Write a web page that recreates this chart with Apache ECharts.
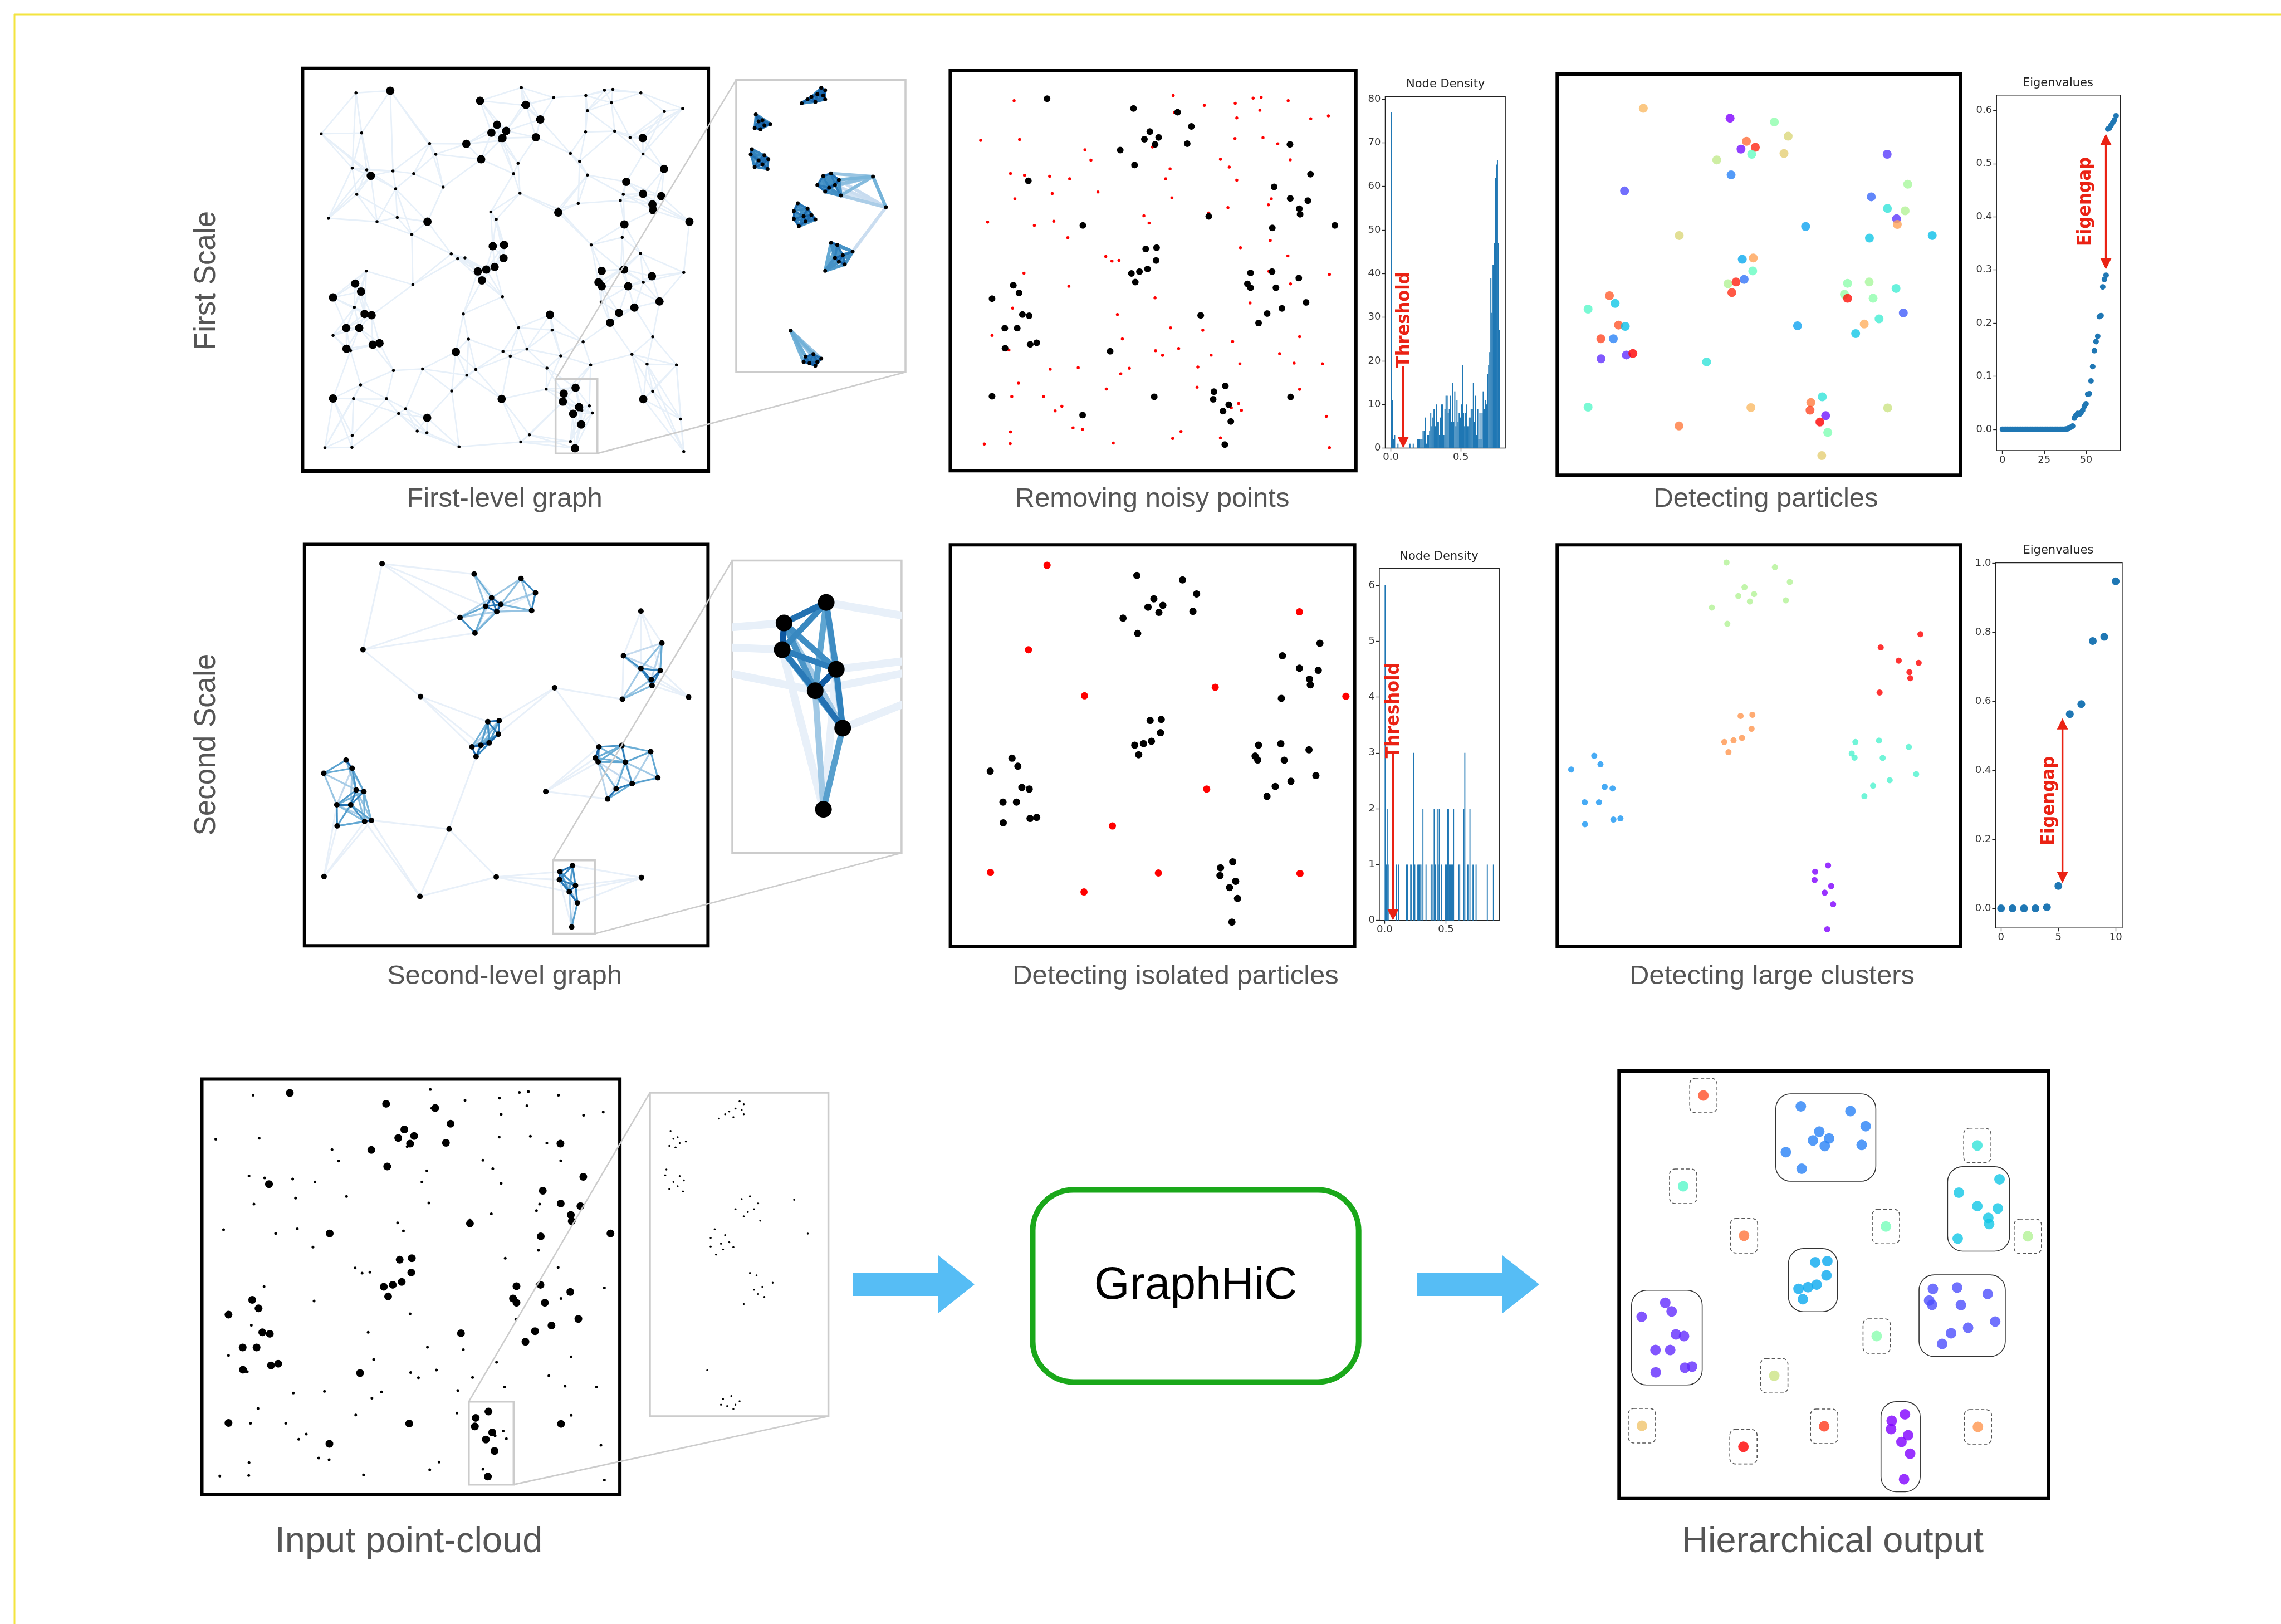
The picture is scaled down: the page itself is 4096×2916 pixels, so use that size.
<!DOCTYPE html>
<html>
<head>
<meta charset="utf-8">
<script src="https://cdn.jsdelivr.net/npm/echarts@6.0.0/dist/echarts.min.js"></script>
<style>
  html, body { margin: 0; padding: 0; background: #fff; }
  #c { width: 4096px; height: 2916px; }
</style>
</head>
<body>
<div id="c"></div>
<script>
// ---------- data ----------

// first-scale particles (blobs): x, y, cluster label (colormap value)
const particles = [
  [390,112,.74],[723,150,0],[893,165,.53],[946,220,.68],[786,240,.86],[765,270,.02],[820,263,.95],[806,290,.45],[672,312,.63],[930,287,.70],[727,370,.17],
  [1326,290,.075],[318,432,.095],[1405,406,.58],[1265,455,.135],[1327,500,.35],[1395,509,.6],[1362,540,.07],[1365,562,.78],[528,605,.68],[1013,570,.22],[1258,615,.285],[1499,605,.27],
  [770,697,.23],[812,692,.78],[810,742,.45],[715,792,.6],[746,785,.96],[777,775,.15],[730,826,.94],
  [1174,790,.53],[1162,833,.55],[1174,848,.98],[1257,785,.58],[1272,848,.53],[1360,810,.38],
  [260,838,.88],[282,868,.285],[178,890,.42],[295,952,.89],[321,957,.27],[227,1005,.91],[275,1005,.17],[325,1068,.06],[350,1062,1.0],[228,1083,.06],
  [1388,905,.12],[1295,928,.38],[1238,948,.76],[982,955,.22],[1205,985,.285],[633,1095,.35],
  [178,1270,.42],[803,1272,.74],[527,1343,.84],[1328,1273,.65],
  [1077,1230,.35],[1033,1252,.84],[1030,1282,.91],[1090,1303,.03],[1068,1328,1.0],[1098,1368,.5],[1075,1458,.7]
];

// first-scale noisy single points
const noise = [
  [263,120],[876,100],[996,138],[1115,130],[1184,110],[1215,107],[1319,120],[1210,157],[1121,187],[1474,179],[1406,190],[881,166],
  [134,274],[284,271],[1114,267],[1222,264],[1279,288],[536,311],[559,351],[796,300],[1058,348],[1092,378],[1327,350],[864,385],
  [249,403],[303,410],[400,414],[477,424],[847,424],[1121,429],[410,481],[586,475],[266,502],[871,498],[1254,502],[1243,525],[1087,536],
  [161,592],[341,605],[416,589],[763,568],[783,596],[1013,557],[470,653],[1250,664],[1135,692],[616,726],[640,744],[667,741],[1318,724],
  [301,791],[1245,784],[1478,796],[474,842],[1328,833],[806,887],[1172,907],[257,927],[661,952],[866,1004],[990,1013],[178,1033],[680,1047],[1363,1038],[1105,1057],
  [243,1090],[808,1093],[835,1111],[897,1084],[1022,1110],[1286,1104],[1342,1141],[1451,1144],[1133,1144],[402,1165],[510,1159],[707,1161],[674,1183],[971,1156],
  [280,1219],[618,1242],[968,1235],[1363,1243],[254,1271],[376,1271],[447,1309],[421,1327],[1128,1298],[1139,1325],[1100,1315],[1466,1348],
  [490,1393],[526,1399],[249,1409],[906,1407],[874,1434],[1058,1432],[148,1456],[248,1454],[645,1452],[1478,1470]
];

// individual points inside the zoomed region (inset coordinates)
const insetPoints = [
  [1335,85],[1345,95],[1345,130],[1285,145],[1310,120],[1325,110],[1320,140],[1300,130],[1340,115],
  [1168,188],[1175,215],[1205,225],[1180,245],[1165,240],[1190,230],[1185,210],
  [1158,322],[1155,342],[1190,345],[1200,360],[1175,365],[1165,390],[1198,398],[1185,380],
  [1360,415],[1340,425],[1380,440],[1325,460],[1355,470],[1385,500],[1345,485],[1370,460],
  [1275,530],[1300,550],[1265,560],[1290,580],[1310,575],[1265,590],[1320,592],[1278,618],[1295,600],
  [1360,682],[1376,690],[1415,716],[1390,730],[1370,740],[1395,765],[1345,790],[1380,755],
  [1295,1120],[1315,1110],[1335,1128],[1305,1145],[1320,1155],[1290,1140],[1325,1140],
  [1467,427],[1500,545],[1257,1020]
];

// second-scale nodes: x, y, large-cluster id
const s2Points = [
  [719,132,0],[891,149,0],[944,203,0],[783,222,0],[761,254,0],[817,247,0],[802,274,0],[667,296,0],[930,270,0],[722,355,0],
  [1408,393,1],[1267,441,1],[1331,489,1],[1402,497,1],[1369,531,1],[1372,553,1],[1263,605,1],
  [769,690,2],[811,686,2],[808,737,2],[711,785,2],[744,779,2],[774,770,2],[726,822,2],
  [1177,785,3],[1261,780,3],[1367,803,3],[1164,827,3],[1174,842,3],[1274,843,3],[1393,902,3],[1299,924,3],[1240,944,3],[1209,982,3],
  [249,835,4],[271,866,4],[167,885,4],[286,948,4],[314,954,4],[215,1004,4],[266,1004,4],[216,1084,4],[317,1067,4],[342,1063,4],
  [1080,1234,5],[1034,1257,5],[1032,1287,5],[1091,1309,5],[1068,1333,5],[1098,1375,5],[1077,1466,5]
];
// second-scale isolated particles
const s2Isolated = [
  [381,93],[311,418],[522,595],[1014,562],[1331,272],[1506,597],[982,954],[627,1096],[168,1275],[800,1277],[1333,1279],[520,1350]
];
const clusterLabelF = [0.6, 1.0, 0.8, 0.4, 0.2, 0.0];
const clusterLabelH = [0.17, 0.285, 0.23, 0.1, 0.055, 0.0];
const isolatedLabelH = [0.9, 0.42, 0.85, 0.48, 0.35, 0.6, 0.52, 0.65, 0.72, 0.93, 0.8, 1.0];

// node density histogram, first scale (100 bins)
const density1BinWidth = 0.0078125;
const density1 = [
  77,11,2,3,0,0,1,0,0,0,
  0,0,0,0,0,0,0,1,0,0,
  1,0,0,0,2,2,2,2,2,4,
  4,7,1,3,3,4,8,5,7,9,
  5,10,6,6,3,7,10,10,3,9,
  12,12,8,9,12,6,15,6,13,5,
  11,6,8,7,10,19,8,5,8,10,
  5,7,7,9,9,15,6,12,3,9,
  2,8,2,8,13,9,11,10,17,19,
  22,39,31,42,47,62,65,66,47,27
];
// node density histogram, second scale (non-empty bins)
const density2BinWidth = 0.00833;
const density2Bins   = [0,1,2,3,11,13,21,22,25,26,28,29,32,33,34,35,37,40,45,46,48,49,51,52,53,55,59,60,61,62,63,64,65,66,67,72,73,77,78,81,83,86,89,100,106];
const density2Counts = [6,1,2,1,1, 1, 1, 1, 1, 1, 3, 1, 1, 1, 1, 1, 2, 1, 1, 1, 2, 1, 2, 1, 2, 1, 1, 1, 2, 2, 1, 1, 1, 1, 2, 1, 1, 2, 3, 1, 2, 1, 1, 1, 1];

// eigenvalues
const eigen1 = [
  0,0,0,0,0,0,0,0,0,0,0,0,0,0,0,0,0,0,0,0,
  0,0,0,0,0,0,0,0,0,0,0,0,0,0,0,0,0,0,
  0.0005,0.001,0.003,0.004,0.006,0.021,0.026,0.03,0.028,0.031,0.036,0.043,0.048,0.066,0.067,
  0.091,0.118,0.148,0.165,0.175,0.212,0.214,0.268,0.282,0.29,
  0.565,0.567,0.572,0.577,0.582,0.59
];
const eigen2 = [0, 0, 0, 0, 0.003, 0.065, 0.563, 0.592, 0.775, 0.787, 0.948];

// annotations
const threshold1 = 0.088, threshold2 = 0.068;
const eigengap1 = { index: 61.9, low: 0.301, high: 0.556 };
const eigengap2 = { index: 5.36, low: 0.073, high: 0.551 };

// ---------- helpers ----------
function rainbow(t) {
  const r = Math.min(1, Math.abs(2 * t - 0.5));
  const g = Math.sin(Math.PI * t);
  const b = Math.max(0, Math.cos(Math.PI * t / 2));
  return 'rgb(' + Math.round(r * 255) + ',' + Math.round(g * 255) + ',' + Math.round(b * 255) + ')';
}
const blues = [[0, [8, 48, 107]], [0.2, [8, 81, 156]], [0.4, [49, 130, 189]], [0.6, [107, 174, 214]], [0.8, [198, 219, 239]], [1, [238, 244, 251]]];
function ramp(t) {
  t = Math.max(0, Math.min(1, t));
  for (let k = 1; k < blues.length; k++) {
    if (t <= blues[k][0]) {
      const a = blues[k - 1], b = blues[k];
      const f = (t - a[0]) / (b[0] - a[0]);
      const c = a[1].map((v, n) => Math.round(v + (b[1][n] - v) * f));
      return 'rgb(' + c.join(',') + ')';
    }
  }
  return 'rgb(238,244,251)';
}
function dist(a, b, sx, sy) {
  const dx = (a[0] - b[0]) * sx, dy = (a[1] - b[1]) * sy;
  return Math.sqrt(dx * dx + dy * dy);
}
function knnPairs(pts, k, sx, sy) {
  const m = new Map();
  pts.forEach((p, i) => {
    pts.map((q, j) => [j, dist(p, q, sx, sy)])
      .filter(e => e[0] !== i)
      .sort((a, b) => a[1] - b[1])
      .slice(0, k)
      .forEach(([j, d]) => {
        const key = Math.min(i, j) + '-' + Math.max(i, j);
        if (!m.has(key)) m.set(key, [Math.min(i, j), Math.max(i, j), d]);
      });
  });
  return [...m.values()];
}

// ---------- layout (px in the 4096 x 2916 window) ----------
const grids = {
  A:  [543.4, 122.8, 1272.1, 846.0],  Ai: [1322, 143.4, 1626, 668.3],
  B:  [1706.4, 126.4, 2434.8, 845.3], H1: [2487.5, 173.2, 2703.1, 804.5],
  C:  [2796.3, 133.1, 3520.8, 853.2], E1: [3585.2, 170.7, 3807.7, 809.0],
  D:  [546.8, 977.5, 1271.4, 1698.3], Di: [1315, 1006.5, 1618.9, 1531.6],
  E:  [1706.6, 978.2, 2432.6, 1699.1], H2: [2476.9, 1020.8, 2692.2, 1652.7],
  F:  [2796.3, 978.2, 3520.8, 1699.1], E2: [3583.4, 1010.4, 3810.9, 1666.3],
  G:  [362.5, 1937.5, 1113.1, 2683.9], Gi: [1167, 1962.1, 1487.6, 2542.9],
  Ho: [2907.3, 1922.9, 3678.8, 2690.7]
};
const ranges = {
  A:  [65.2, 1569.5, 27.9, 1543.8],  Ai: [1118, 1550, 55, 1180],
  B:  [17, 1580, 2, 1560],           H1: [-0.04, 0.818, 0, 80.6],
  C:  [59.6, 1608.2, -20.7, 1533.8], E1: [-3.5, 70.6, -0.04, 0.629],
  D:  [96.3, 1577.4, 20, 1537],      Di: [977.6, 1162.2, 1187, 1515],
  E:  [17, 1539, 14, 1559],          H2: [-0.043, 0.9345, 0, 6.3],
  F:  [117.3, 1551.2, 67.7, 1528],   E2: [-0.48, 10.57, -0.057, 1.002],
  G:  [85.9, 1531.5, 63.2, 1521.7],  Gi: [1118, 1550, 55, 1180],
  Ho: [88.6, 1578.4, 5.2, 1535.4]
};
const order = ['A', 'Ai', 'B', 'H1', 'C', 'E1', 'D', 'Di', 'E', 'H2', 'F', 'E2', 'G', 'Gi', 'Ho'];
const idx = {};
order.forEach((k, i) => idx[k] = i);
const plots = { H1: 1, E1: 1, H2: 1, E2: 1 };
const insets = { Ai: 1, Di: 1, Gi: 1 };

const zoomRectA = [1003, 1197, 1158, 1477];
const zoomRectD = [1008, 1214, 1162, 1491];
const zoomRectG = [1009, 1195, 1164, 1486];

const tickFont = { fontFamily: 'DejaVu Sans', fontSize: 18, color: '#333' };
const axisTicks = {
  H1: { x: [0, 0.5], y: [0, 10, 20, 30, 40, 50, 60, 70, 80], xf: v => v.toFixed(1), yf: v => String(v) },
  H2: { x: [0, 0.5], y: [0, 1, 2, 3, 4, 5, 6], xf: v => v.toFixed(1), yf: v => String(v) },
  E1: { x: [0, 25, 50], y: [0, 0.1, 0.2, 0.3, 0.4, 0.5, 0.6], xf: v => String(v), yf: v => v.toFixed(1) },
  E2: { x: [0, 5, 10], y: [0, 0.2, 0.4, 0.6, 0.8, 1.0], xf: v => String(v), yf: v => v.toFixed(1) }
};

const grid = [], xAxis = [], yAxis = [];
order.forEach((k, i) => {
  const g = grids[k], r = ranges[k];
  grid.push({
    left: g[0], top: g[1], width: g[2] - g[0], height: g[3] - g[1],
    containLabel: false, outerBoundsMode: 'none',
    show: true, backgroundColor: '#fff',
    borderColor: plots[k] ? '#222' : (insets[k] ? '#cccccc' : '#000'),
    borderWidth: plots[k] ? 1.5 : (insets[k] ? 3.5 : 6)
  });
  if (plots[k]) {
    const t = axisTicks[k];
    xAxis.push({
      type: 'value', gridIndex: i, min: r[0], max: r[1], position: 'bottom',
      axisLine: { show: false, onZero: false }, splitLine: { show: false },
      axisTick: { show: true, length: 6, lineStyle: { color: '#222', width: 1.3 }, customValues: t.x },
      axisLabel: Object.assign({ customValues: t.x, formatter: t.xf, margin: 8 }, tickFont)
    });
    yAxis.push({
      type: 'value', gridIndex: i, min: r[2], max: r[3], position: 'left',
      axisLine: { show: false, onZero: false }, splitLine: { show: false },
      axisTick: { show: true, length: 6, lineStyle: { color: '#222', width: 1.3 }, customValues: t.y },
      axisLabel: Object.assign({ customValues: t.y, formatter: t.yf, margin: 8 }, tickFont)
    });
  } else {
    xAxis.push({ type: 'value', gridIndex: i, min: r[0], max: r[1], show: false });
    yAxis.push({ type: 'value', gridIndex: i, min: r[2], max: r[3], inverse: true, show: false });
  }
});

const series = [];
function on(k) { return { xAxisIndex: idx[k], yAxisIndex: idx[k] }; }
function linesSeries(k, items, z) {
  return Object.assign({
    type: 'lines', coordinateSystem: 'cartesian2d', polyline: false, clip: true, silent: true,
    z: z || 1, data: items, lineStyle: { opacity: 1 }
  }, on(k));
}
function scatter(k, data, size, color, z) {
  return Object.assign({
    type: 'scatter', data: data, symbol: 'circle', symbolSize: size, clip: true, silent: true,
    z: z || 3, itemStyle: { color: color, opacity: 1 }
  }, on(k));
}
function rectSeries(k, rect, color, width) {
  return Object.assign({
    type: 'custom', z: 6, silent: true, data: [rect],
    renderItem: (p, api) => {
      const a = api.coord([api.value(0), api.value(1)]), b = api.coord([api.value(2), api.value(3)]);
      return { type: 'rect', shape: { x: a[0], y: a[1], width: b[0] - a[0], height: b[1] - a[1] },
        style: { fill: 'none', stroke: color, lineWidth: width } };
    }
  }, on(k));
}

// ---- first-level graph ----
const cloud = particles.map(p => [p[0], p[1]]).concat(noise);
const cloudEdges = knnPairs(cloud, 5, 1, 1).map(e => ({
  coords: [cloud[e[0]], cloud[e[1]]], lineStyle: { color: '#e7f0f9', width: 2.6 }
}));
series.push(linesSeries('A', cloudEdges));
series.push(scatter('A', noise, 5.5, '#000'));
series.push(scatter('A', particles.map(p => [p[0], p[1]]), 15, '#000'));
series.push(rectSeries('A', zoomRectA, '#cccccc', 3.5));

// inset of first-level graph
const inPairs = [];
insetPoints.forEach((p, i) => insetPoints.forEach((q, j) => {
  if (j > i) { const d = dist(p, q, 0.89, 0.59); if (d < 32) inPairs.push([i, j, d]); }
}));
const inKey = new Set(inPairs.map(e => e[0] + '-' + e[1]));
const inFar = knnPairs(insetPoints, 6, 0.89, 0.59).filter(e => !inKey.has(e[0] + '-' + e[1]) && e[2] < 180);
const inEdges = inFar.sort((a, b) => b[2] - a[2]).map(e => ({
  coords: [insetPoints[e[0]], insetPoints[e[1]]],
  lineStyle: { color: ramp(0.45 + (e[2] - 32) / 140 * 0.55), width: 6 }
})).concat(inPairs.sort((a, b) => b[2] - a[2]).map(e => ({
  coords: [insetPoints[e[0]], insetPoints[e[1]]],
  lineStyle: { color: ramp(0.12 + e[2] / 32 * 0.3), width: 4 }
})));
series.push(linesSeries('Ai', inEdges));
series.push(scatter('Ai', insetPoints, 7, '#000'));

// ---- removing noisy points ----
series.push(scatter('B', noise, 5.5, '#ff0000'));
series.push(scatter('B', particles.map(p => [p[0], p[1]]), 12, '#000'));

// ---- node density 1 ----
function histRender(bw) {
  return (p, api) => {
    const x0 = api.value(0), h = api.value(1);
    if (!h) return;
    const a = api.coord([x0, 0]), b = api.coord([x0 + bw, h]);
    return { type: 'rect', shape: { x: a[0], y: b[1], width: Math.max(b[0] - a[0], 1.2), height: a[1] - b[1] },
      style: { fill: '#1f77b4' } };
  };
}
series.push(Object.assign({ type: 'custom', silent: true, z: 3,
  data: density1.map((c, i) => [i * density1BinWidth, c]), renderItem: histRender(density1BinWidth) }, on('H1')));

// ---- detecting particles ----
series.push(Object.assign(scatter('C', particles, 16, null), {
  itemStyle: { color: p => rainbow(p.value[2]) }
}));

// ---- eigenvalues 1 ----
series.push(scatter('E1', eigen1.map((v, i) => [i, v]), 10, '#1f77b4'));

// ---- second-level graph ----
const nodes2 = s2Points.map(p => [p[0], p[1]]).concat(s2Isolated);
const cl2 = s2Points.map(p => p[2]).concat(s2Isolated.map(() => -1));
const intra = [];
nodes2.forEach((p, i) => nodes2.forEach((q, j) => {
  if (j > i && cl2[i] >= 0 && cl2[i] === cl2[j]) { const d = dist(p, q, 1, 1); if (d < 150) intra.push([i, j, d]); }
}));
const intraKey = new Set(intra.map(e => e[0] + '-' + e[1]));
const faint2 = knnPairs(nodes2, 4, 1, 1).filter(e => !intraKey.has(e[0] + '-' + e[1]));
function edges2(wIntra, wFaint) {
  return faint2.map(e => ({ coords: [nodes2[e[0]], nodes2[e[1]]], lineStyle: { color: '#e8f0f9', width: wFaint } }))
    .concat(intra.sort((a, b) => b[2] - a[2]).map(e => ({
      coords: [nodes2[e[0]], nodes2[e[1]]],
      lineStyle: { color: ramp(0.18 + (e[2] - 20) / 130 * 0.62), width: wIntra }
    })));
}
series.push(linesSeries('D', edges2(3.2, 3)));
series.push(scatter('D', nodes2, 10, '#000'));
series.push(rectSeries('D', zoomRectD, '#cccccc', 3.5));
series.push(linesSeries('Di', edges2(11, 14)));
series.push(scatter('Di', nodes2, 30, '#000'));

// ---- detecting isolated particles ----
series.push(scatter('E', s2Points.map(p => [p[0], p[1]]), 13, '#000'));
series.push(scatter('E', s2Isolated, 13, '#ff0000'));

// ---- node density 2 ----
series.push(Object.assign({ type: 'custom', silent: true, z: 3,
  data: density2Bins.map((b, i) => [b * density2BinWidth, density2Counts[i]]),
  renderItem: histRender(density2BinWidth) }, on('H2')));

// ---- detecting large clusters ----
series.push(Object.assign(scatter('F', s2Points.map(p => [p[0], p[1], clusterLabelF[p[2]]]), 11, null), {
  itemStyle: { color: p => rainbow(p.value[2]) }
}));

// ---- eigenvalues 2 ----
series.push(scatter('E2', eigen2.map((v, i) => [i, v]), 14, '#1f77b4'));

// ---- annotations (threshold / eigengap arrows) ----
const RED = '#ea2214';
function arrowSeries(k, x, yTop, yBottom, both, text, tx, ty) {
  return Object.assign({
    type: 'custom', silent: true, z: 8, data: [[x, yTop, yBottom, tx, ty]],
    renderItem: (p, api) => {
      const t = api.coord([api.value(0), api.value(1)]);
      const b = api.coord([api.value(0), api.value(2)]);
      const l = api.coord([api.value(3), api.value(4)]);
      const hw = 10, hl = 20;
      const kids = [
        { type: 'line', shape: { x1: t[0], y1: both ? t[1] + hl - 2 : t[1], x2: b[0], y2: b[1] - hl + 2 },
          style: { stroke: RED, lineWidth: 3.4 } },
        { type: 'polygon', shape: { points: [[b[0] - hw, b[1] - hl], [b[0] + hw, b[1] - hl], [b[0], b[1]]] }, style: { fill: RED } },
        { type: 'text', x: l[0], y: l[1], rotation: Math.PI / 2,
          style: { text: text, fill: RED, font: 'bold 34px "Liberation Sans Narrow", "DejaVu Sans Condensed", sans-serif',
            align: 'center', verticalAlign: 'middle' } }
      ];
      if (both) kids.push({ type: 'polygon', shape: { points: [[t[0] - hw, t[1] + hl], [t[0] + hw, t[1] + hl], [t[0], t[1]]] }, style: { fill: RED } });
      return { type: 'group', children: kids };
    }
  }, on(k));
}
series.push(arrowSeries('H1', threshold1, 18.7, 0, false, 'Threshold', threshold1 + 0.011, 29.4));
series.push(arrowSeries('H2', threshold2, 3.03, 0, false, 'Threshold', threshold2 + 0.009, 3.76));
series.push(arrowSeries('E1', eigengap1.index, eigengap1.high, eigengap1.low, true, 'Eigengap', 49.8, 0.4285));
series.push(arrowSeries('E2', eigengap2.index, eigengap2.high, eigengap2.low, true, 'Eigengap', 4.23, 0.312));

// ---- input point cloud ----
series.push(scatter('G', noise, 5, '#000'));
series.push(scatter('G', particles.map(p => [p[0], p[1]]), 14, '#000'));
series.push(rectSeries('G', zoomRectG, '#cccccc', 3.5));
series.push(scatter('Gi', insetPoints, 3.5, '#000'));

// ---- hierarchical output ----
const boxPad = [35, 45];
const clusterBoxes = clusterLabelH.map((_, c) => {
  const pts = s2Points.filter(p => p[2] === c);
  const xs = pts.map(p => p[0]), ys = pts.map(p => p[1]);
  return [Math.min(...xs) - boxPad[0], Math.min(...ys) - boxPad[1], Math.max(...xs) + boxPad[0], Math.max(...ys) + boxPad[1]];
});
series.push(Object.assign({
  type: 'custom', silent: true, z: 2, data: clusterBoxes,
  renderItem: (p, api) => {
    const a = api.coord([api.value(0), api.value(1)]), b = api.coord([api.value(2), api.value(3)]);
    return { type: 'rect', shape: { x: a[0], y: a[1], width: b[0] - a[0], height: b[1] - a[1], r: 27 },
      style: { fill: 'none', stroke: '#333', lineWidth: 1.6 } };
  }
}, on('Ho')));
series.push(Object.assign({
  type: 'custom', silent: true, z: 2, data: s2Isolated,
  renderItem: (p, api) => {
    const c = api.coord([api.value(0), api.value(1)]);
    return { type: 'rect', shape: { x: c[0] - 24.5, y: c[1] - 31, width: 49, height: 62, r: 10 },
      style: { fill: 'none', stroke: '#555', lineWidth: 1.6, lineDash: [6, 4] } };
  }
}, on('Ho')));
const hData = s2Points.map(p => [p[0], p[1], clusterLabelH[p[2]]])
  .concat(s2Isolated.map((p, i) => [p[0], p[1], isolatedLabelH[i]]));
series.push(Object.assign(scatter('Ho', hData, 19, null), {
  itemStyle: { color: p => rainbow(p.value[2]) }
}));

const chart = echarts.init(document.getElementById('c'), null, { width: 4096, height: 2916 });
chart.setOption({ animation: false, backgroundColor: '#fff', grid, xAxis, yAxis, series });

// ---------- static artwork: captions, connectors, arrows ----------
function px(k, pt) { return chart.convertToPixel({ xAxisIndex: idx[k], yAxisIndex: idx[k] }, pt); }
function connectors(k, rect, inset) {
  const tl = px(k, [rect[0], rect[1]]), br = px(k, [rect[2], rect[3]]);
  const g = grids[inset];
  return [
    { type: 'line', z: 50, shape: { x1: tl[0], y1: tl[1], x2: g[0], y2: g[1] }, style: { stroke: '#cccccc', lineWidth: 2.6 } },
    { type: 'line', z: 50, shape: { x1: br[0], y1: br[1], x2: g[2], y2: g[3] }, style: { stroke: '#cccccc', lineWidth: 2.6 } }
  ];
}
function caption(text, x, y, size, color, rot) {
  return { type: 'text', z: 60, x: x, y: y, rotation: rot || 0,
    style: { text: text, fill: color || '#555', font: size + 'px "Liberation Sans", Arial, sans-serif', align: 'center', verticalAlign: 'middle' } };
}
function plotTitle(text, x, y) {
  return { type: 'text', z: 60, x: x, y: y,
    style: { text: text, fill: '#222', font: '21px "DejaVu Sans", sans-serif', align: 'center', verticalAlign: 'middle' } };
}
function bigArrow(x0, xh, xt, yc) {
  return { type: 'polygon', z: 40, shape: { points: [[x0, yc - 21], [xh, yc - 21], [xh, yc - 52], [xt, yc], [xh, yc + 52], [xh, yc + 21], [x0, yc + 21]] },
    style: { fill: '#56bdf5' } };
}

const graphics = [
  { type: 'line', z: 30, shape: { x1: 26, y1: 26, x2: 4096, y2: 26 }, style: { stroke: '#f3e43f', lineWidth: 3 } },
  { type: 'line', z: 30, shape: { x1: 26, y1: 26, x2: 26, y2: 2916 }, style: { stroke: '#f3e43f', lineWidth: 3 } },
  caption('First Scale', 371, 504, 53, '#555', Math.PI / 2),
  caption('Second Scale', 371, 1337, 53, '#555', Math.PI / 2),
  caption('First-level graph', 906, 896, 49),
  caption('Removing noisy points', 2069, 896, 49),
  caption('Detecting particles', 3171, 896, 49),
  caption('Second-level graph', 906, 1753, 49),
  caption('Detecting isolated particles', 2111, 1753, 49),
  caption('Detecting large clusters', 3182, 1753, 49),
  caption('Input point-cloud', 734, 2769, 65),
  caption('Hierarchical output', 3291, 2769, 65),
  plotTitle('Node Density', 2595.7, 152),
  plotTitle('Eigenvalues', 3695.4, 149.6),
  plotTitle('Node Density', 2583.9, 1000),
  plotTitle('Eigenvalues', 3696, 989),
  bigArrow(1531, 1685, 1750, 2306),
  bigArrow(2544, 2698, 2764, 2306),
  { type: 'rect', z: 40, shape: { x: 1854.5, y: 2136.6, width: 585.2, height: 344.8, r: 73 },
    style: { fill: '#fff', stroke: '#1aa81a', lineWidth: 10 } },
  caption('GraphHiC', 2147, 2309, 82, '#000')
].concat(connectors('A', zoomRectA, 'Ai'), connectors('D', zoomRectD, 'Di'), connectors('G', zoomRectG, 'Gi'));

chart.setOption({ graphic: graphics });
</script>
</body>
</html>
